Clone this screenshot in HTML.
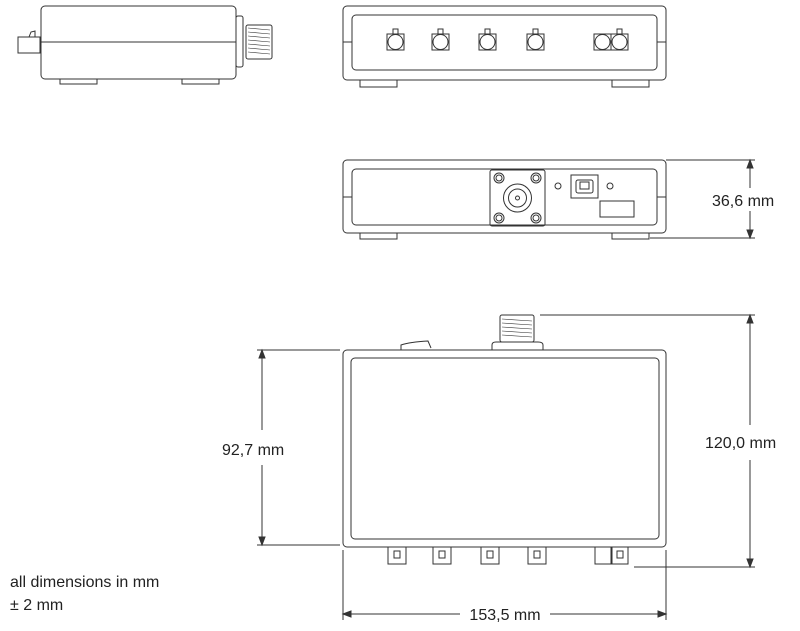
<!DOCTYPE html>
<html><head><style>body{margin:0;background:#fff}svg{display:block}text{font-family:"Liberation Sans",sans-serif;font-size:16px;fill:#222}</style></head><body>
<svg width="800" height="631" viewBox="0 0 800 631" fill="none" stroke="#333" stroke-width="1">
<!-- side view -->
<rect x="41" y="6" width="195" height="73" rx="4"/>
<line x1="41" y1="42" x2="236" y2="42"/>
<rect x="60" y="79" width="37" height="5"/><rect x="182" y="79" width="37" height="5"/>
<rect x="18" y="37" width="22" height="16"/><path d="M29 37 L31 32 L35 31 L35 37"/>
<rect x="236" y="16" width="7" height="51" rx="2"/>
<rect x="246" y="25" width="26" height="34" rx="2"/>
<g stroke-width="0.6"><path d="M248 28L270 30M248 32L270 34M248 36L270 38M248 40L270 42M248 44L270 46M248 48L270 50M248 52L270 54"/></g>
<!-- front view -->
<rect x="343" y="6" width="323" height="74" rx="4"/>
<rect x="352" y="15" width="305" height="55" rx="4"/>
<line x1="343" y1="42" x2="352" y2="42"/><line x1="657" y1="42" x2="666" y2="42"/>
<rect x="360" y="80" width="37" height="7"/><rect x="612" y="80" width="37" height="7"/>
<g>
<rect x="387" y="34" width="17" height="16"/><circle cx="395.5" cy="42" r="7.5"/><rect x="393" y="29" width="5" height="5"/>
<rect x="432" y="34" width="17" height="16"/><circle cx="440.5" cy="42" r="7.5"/><rect x="438" y="29" width="5" height="5"/>
<rect x="479" y="34" width="17" height="16"/><circle cx="487.5" cy="42" r="7.5"/><rect x="485" y="29" width="5" height="5"/>
<rect x="527" y="34" width="17" height="16"/><circle cx="535.5" cy="42" r="7.5"/><rect x="533" y="29" width="5" height="5"/>
<rect x="594" y="34" width="17" height="16"/><circle cx="602.5" cy="42" r="7.5"/>
<rect x="611" y="34" width="17" height="16"/><circle cx="619.5" cy="42" r="7.5"/><rect x="617" y="29" width="5" height="5"/>
</g>
<!-- back view -->
<rect x="343" y="160" width="323" height="73" rx="4"/>
<rect x="352" y="169" width="305" height="56" rx="4"/>
<line x1="343" y1="197" x2="352" y2="197"/><line x1="657" y1="197" x2="666" y2="197"/>
<rect x="360" y="233" width="37" height="6"/><rect x="612" y="233" width="37" height="6"/>
<rect x="490" y="170" width="55" height="56" rx="2"/>
<circle cx="517.5" cy="198" r="14"/><circle cx="517.5" cy="198" r="9"/><circle cx="517.5" cy="198" r="2"/>
<circle cx="499" cy="178" r="5"/><circle cx="499" cy="178" r="3"/><circle cx="536" cy="178" r="5"/><circle cx="536" cy="178" r="3"/>
<circle cx="499" cy="218" r="5"/><circle cx="499" cy="218" r="3"/><circle cx="536" cy="218" r="5"/><circle cx="536" cy="218" r="3"/>
<circle cx="558" cy="186" r="3"/><circle cx="610" cy="186" r="3"/>
<rect x="571" y="175" width="27" height="23"/><rect x="576" y="180" width="17" height="13" rx="2"/><rect x="580" y="182" width="9" height="7"/>
<rect x="600" y="201" width="34" height="16"/>
<line x1="666" y1="160" x2="755" y2="160"/><line x1="650" y1="238" x2="755" y2="238"/>
<line x1="750" y1="160" x2="750" y2="188"/><line x1="750" y1="211" x2="750" y2="238"/>
<path d="M750 160l-3 8h6z M750 238l-3 -8h6z" fill="#333"/>
<!-- top view -->
<rect x="343" y="350" width="323" height="197" rx="4"/>
<rect x="351" y="358" width="308" height="181" rx="4"/>
<rect x="500" y="315" width="34" height="27" rx="2"/>
<g stroke-width="0.6"><path d="M502 319L532 321M502 323L532 325M502 327L532 329M502 331L532 333M502 335L532 337"/></g>
<path d="M492 350 L492 345 Q492 342 496 342 L538 342 Q543 342 543 345 L543 350"/>
<path d="M401 350 L401 345 Q410 342 428 341 L431 348"/>
<g>
<rect x="388" y="547" width="18" height="17"/><rect x="394" y="551" width="6" height="7"/>
<rect x="433" y="547" width="18" height="17"/><rect x="439" y="551" width="6" height="7"/>
<rect x="481" y="547" width="18" height="17"/><rect x="487" y="551" width="6" height="7"/>
<rect x="528" y="547" width="18" height="17"/><rect x="534" y="551" width="6" height="7"/>
<rect x="595" y="547" width="16" height="17"/><rect x="612" y="547" width="16" height="17"/><rect x="617" y="551" width="6" height="7"/>
</g>
<line x1="257" y1="350" x2="340" y2="350"/><line x1="257" y1="545" x2="340" y2="545"/>
<line x1="262" y1="350" x2="262" y2="430"/><line x1="262" y1="465" x2="262" y2="545"/>
<path d="M262 350l-3 8h6z M262 545l-3 -8h6z" fill="#333"/>
<line x1="540" y1="315" x2="755" y2="315"/><line x1="634" y1="567" x2="755" y2="567"/>
<line x1="750" y1="315" x2="750" y2="425"/><line x1="750" y1="460" x2="750" y2="567"/>
<path d="M750 315l-3 8h6z M750 567l-3 -8h6z" fill="#333"/>
<line x1="343" y1="550" x2="343" y2="620"/><line x1="666" y1="550" x2="666" y2="620"/>
<line x1="343" y1="614" x2="460" y2="614"/><line x1="550" y1="614" x2="666" y2="614"/>
<path d="M343 614l8 -3v6z M666 614l-8 -3v6z" fill="#333"/>
<g stroke="none">
<text x="712" y="206">36,6 mm</text>
<text x="222" y="455">92,7 mm</text>
<text x="705" y="448">120,0 mm</text>
<text x="505" y="620" text-anchor="middle">153,5 mm</text>
<text x="10" y="587">all dimensions in mm</text>
<text x="10" y="610">± 2 mm</text>
</g>
</svg>
</body></html>
